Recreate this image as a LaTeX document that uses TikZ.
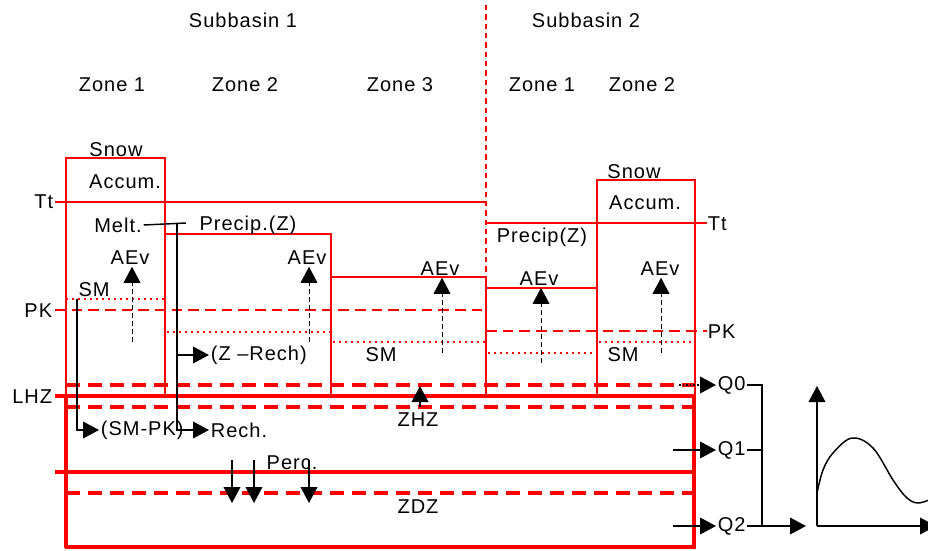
\documentclass[tikz,border=0pt]{standalone}
\usepackage{fontspec}
\setmainfont{Liberation Sans}[LetterSpace=5]
\usetikzlibrary{arrows.meta}
\begin{document}
\begin{tikzpicture}[x=0.75pt,y=-0.75pt,
  lbl/.style={inner sep=1.2pt,font=\fontsize{15pt}{18pt}\selectfont},
  tip/.style={-{Triangle[length=12pt,width=12.5pt]}},
  redthin/.style={draw=red,line width=0.8pt},
  redbox/.style={draw=red,line width=1.8pt},
  redthick/.style={draw=red,line width=2.5pt},
  gwdash/.style={draw=red,line width=2.4pt,dash pattern=on 10.5pt off 6pt},
  pkdash/.style={draw=red,line width=1.6pt,dash pattern=on 8pt off 4.5pt},
  smdot/.style={draw=red,line width=1.6pt,dash pattern=on 1.5pt off 3pt},
  blk/.style={draw=black,line width=1.1pt},
  flow/.style={blk,tip},
  evap/.style={draw=black,line width=0.7pt,dash pattern=on 3.5pt off 2.5pt,tip},
  qdot/.style={draw=black,line width=1.1pt,dash pattern=on 1.2pt off 1.5pt,tip}]
\useasboundingbox (0,0) rectangle (928,550);

% --- headings -------------------------------------------------------
\node[lbl] (sb1) at (243,20) {Subbasin 1};
\node[lbl] (sb2) at (586,20) {Subbasin 2};
\node[lbl] (z11) at (112,85) {Zone 1};
\node[lbl] (z12) at (245,85) {Zone 2};
\node[lbl] (z13) at (400,85) {Zone 3};
\node[lbl] (z21) at (542,85) {Zone 1};
\node[lbl] (z22) at (642,85) {Zone 2};

% divide between the two subbasins
\draw[redthin,dash pattern=on 4pt off 3pt] (486,5) -- (486,277);

% --- temperature thresholds ----------------------------------------
\draw[redthin] (55,202) -- (486,202);
\draw[redthin] (486,223) -- (707,223);

% --- zone columns -----------------------------------------------------
\draw[redbox] (66,547) -- (66,158) -- (165,158) -- (165,396);
\draw[redbox] (165,234) -- (331,234) -- (331,396);
\draw[redbox] (331,277) -- (486,277) -- (486,396);
\draw[redbox] (486,288) -- (597,288) -- (597,396);
\draw[red,line width=1.3pt] (597,396) -- (597,180) -- (695,180) -- (695,396);

% --- PK levels and soil moisture levels -----------------------------
\draw[pkdash] (55,310) -- (486,310);
\draw[pkdash] (486,331) -- (707,331);
\draw[smdot] (66,299) -- (165,299);
\draw[smdot] (167,332) -- (331,332);
\draw[smdot] (333,342) -- (486,342);
\draw[smdot] (488,353) -- (597,353);
\draw[smdot] (599,342) -- (695,342);

% --- groundwater zones ----------------------------------------------
\draw[gwdash] (66,385) -- (695,385);
\draw[redthick] (55,396) -- (694,396);
\draw[gwdash] (66,407) -- (693,407);
\draw[redthick] (55,472) -- (693,472);
\draw[gwdash] (66,493) -- (693,493);
\draw[redthick] (65,547) -- (694,547) -- (694,395);
\draw[redthick] (66,396) -- (66,548);

% --- side labels ------------------------------------------------------
\node[lbl,anchor=east] (ttl) at (55,202) {Tt};
\node[lbl,anchor=west] (ttr) at (706,224) {Tt};
\node[lbl,anchor=east] (pkl) at (54,311) {PK};
\node[lbl,anchor=west] (pkr) at (706,332) {PK};
\node[lbl,anchor=east] (lhz) at (54,397) {LHZ};

% --- snow boxes -------------------------------------------------------
\node[lbl] (snow1) at (116,150) {Snow};
\node[lbl] (acc1) at (125,182) {Accum.};
\node[lbl] (snow2) at (634,172) {Snow};
\node[lbl] (acc2) at (645,203) {Accum.};

% --- melt / precipitation routing ----------------------------------
\node[lbl] (melt) at (118,225) {Melt.};
\node[lbl] (prz1) at (248,225) {Precip.(Z)};
\node[lbl] (prz2) at (542,237) {Precip(Z)};
\coordinate (mj) at (177,223);
\coordinate (me) at (186,223);
\draw[blk] (melt.east) -- (me);
\node[lbl,anchor=west] (zrech) at (209,355) {(Z –Rech)};
\node[lbl,anchor=west] (smpk) at (99,430) {(SM-PK)};
\node[lbl,anchor=west] (rech) at (209,430) {Rech.};
\draw[flow] (mj) |- (rech.west);
\draw[flow] (mj |- zrech.west) -- (zrech.west);

% --- soil moisture -----------------------------------------------------
\node[lbl] (sm1) at (94,290) {SM};
\node[lbl] (sm3) at (381,355) {SM};
\node[lbl] (sm5) at (623,355) {SM};
\coordinate (smj) at (77,299);
\draw[flow] (smj) |- (smpk.west);

% --- actual evaporation ----------------------------------------------
\node[lbl] (aev1) at (130,258) {AEv};
\node[lbl] (aev2) at (307,258) {AEv};
\node[lbl] (aev3) at (440,269) {AEv};
\node[lbl] (aev4) at (539,279) {AEv};
\node[lbl] (aev5) at (660,269) {AEv};
\coordinate (e1) at (132,342);
\coordinate (e2) at (309,342);
\coordinate (e3) at (442,353);
\coordinate (e4) at (541,363);
\coordinate (e5) at (661,353);
\foreach \i in {1,...,5} \draw[evap] (e\i) -- (e\i |- aev\i.south);

% --- capillary rise into the upper zone ------------------------------
\coordinate (cr0) at (420,407);
\coordinate (cr1) at (420,386);
\draw[flow] (cr0) -- (cr1);
\node[lbl] (zhz) at (418,420) {ZHZ};

% --- percolation -------------------------------------------------------
\node[lbl] (perc) at (292,463) {Perc.};
\coordinate (pa0) at (232,460); \coordinate (pa1) at (232,503);
\coordinate (pb0) at (254,460); \coordinate (pb1) at (254,503);
\coordinate (pc0) at (309,460); \coordinate (pc1) at (309,503);
\draw[flow] (pa0) -- (pa1);
\draw[flow] (pb0) -- (pb1);
\draw[flow] (pc0) -- (pc1);
\node[lbl] (zdz) at (418,507) {ZDZ};

% --- runoff components -----------------------------------------------
\node[lbl,anchor=west] (q0) at (716,385) {Q0};
\node[lbl,anchor=west] (q1) at (716,450) {Q1};
\node[lbl,anchor=west] (q2) at (716,526) {Q2};
\coordinate (q0s) at (679,385);
\coordinate (q1s) at (673,450);
\coordinate (q2s) at (673,526);
\draw[qdot] (q0s) -- (q0.west);
\draw[flow] (q1s) -- (q1.west);
\draw[flow] (q2s) -- (q2.west);
\coordinate (bt) at (762,385);
\coordinate (bb) at (762,526);
\coordinate (out) at (806,526);
\draw[blk] (q0.east) -- (bt) -- (bb);
\draw[blk] (q1.east) -- (q1.east -| bt);
\draw[blk] (q2.east) -- (bb);
\draw[flow] (bb) -- (out);

% --- hydrograph ----------------------------------------------------------
\coordinate (o) at (817,526);
\coordinate (ya) at (817,386);
\coordinate (xa) at (936,526);
\draw[flow] (o) -- (ya);
\draw[flow] (o) -- (xa);
\draw[blk] plot[smooth,tension=0.6] coordinates {(817,493) (823,470) (833,453) (852,438)
  (873,448) (893,480) (906,497) (917,503) (929,500)};
\end{tikzpicture}
\end{document}
